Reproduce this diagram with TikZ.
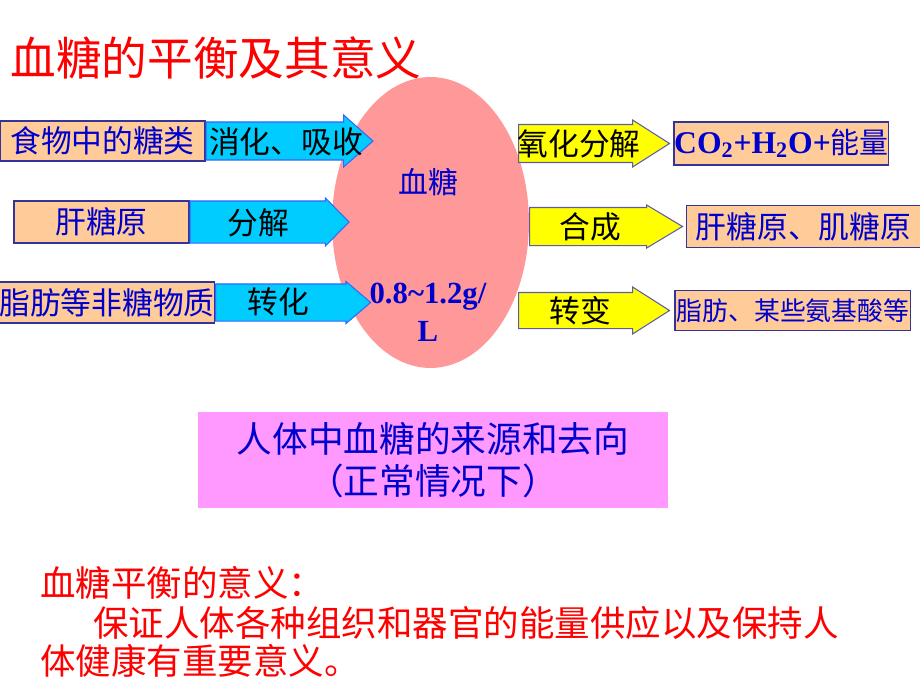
\documentclass[tikz,border=0pt]{standalone}
\usepackage{fontspec}
\setmainfont{Liberation Serif}
\newfontfamily\cjk{Noto Sans CJK SC}
\usepackage{tikz}
\usetikzlibrary{positioning, shapes.geometric, shapes.arrows, calc}
\definecolor{tanbox}{HTML}{FFCC99}
\definecolor{cyanarr}{HTML}{00CCFF}
\definecolor{yellowarr}{HTML}{FFFF00}
\definecolor{bloodpink}{HTML}{FF9999}
\definecolor{notepink}{HTML}{FF99FF}
\definecolor{textblue}{HTML}{0000CC}
\definecolor{edgeblue}{HTML}{333399}
\definecolor{arredge}{HTML}{3366FF}
\tikzstyle{srcbox} = [rectangle, draw=edgeblue, fill=tanbox, line width=0.6pt, inner sep=0pt, text=textblue, font=\cjk\fontsize{17.5}{20}\selectfont]
\tikzstyle{dstbox} = [srcbox]
\tikzstyle{inarrow} = [single arrow, draw=arredge, fill=cyanarr, line width=0.6pt, inner sep=0pt, text depth=0pt]
\tikzstyle{outarrow} = [inarrow, fill=yellowarr, draw=edgeblue!80]
\tikzstyle{arrowtext} = [inner sep=0pt, font=\cjk\fontsize{17.5}{20}\selectfont]
\tikzstyle{redtext} = [inner sep=0pt, text=red, font=\cjk\fontsize{20.2}{22}\selectfont]

\begin{document}
\begin{tikzpicture}[x=0.02cm, y=-0.02cm]
    \useasboundingbox (0,0) rectangle (920,690);
    %标题
    \node (title) [anchor=west, inner sep=0pt, text=red, font=\cjk\fontsize{26}{30}\selectfont] at (10,58) {血糖的平衡及其意义};

    %血糖
    \node (blood) [ellipse, fill=bloodpink, minimum width=3.94cm, minimum height=5.82cm, inner sep=0pt] at (430.5,222.5) {};

    %来源
    \node (food) [srcbox, minimum width=4.1cm, minimum height=0.8cm] at (102.5,141) {食物中的糖类};
    \node (liver) [srcbox, minimum width=3.5cm, minimum height=0.84cm] at (101.5,222) {肝糖原};
    \node (fat) [srcbox, minimum width=4.2cm, minimum height=0.82cm] at (107,302.5) {脂肪等非糖物质};

    \node (a1) [inarrow, anchor=tail, minimum height=3.34cm, minimum width=1.02cm, text height=0.74cm, single arrow head extend=0.14cm, single arrow tip angle=83] at (food.east) {};
    \node (a2) [inarrow, anchor=tail, minimum height=3.18cm, minimum width=0.94cm, text height=0.82cm, single arrow head extend=0.06cm, single arrow tip angle=91] at (liver.east) {};
    \node (a3) [inarrow, anchor=tail, minimum height=3.1cm, minimum width=0.82cm, text height=0.72cm, single arrow head extend=0.05cm, single arrow tip angle=81] at (fat.east) {};
    \node (t1) [arrowtext] at (286,141.5) {消化、吸收};
    \node (t2) [arrowtext] at (258,222.5) {分解};
    \node (t3) [arrowtext] at (278,302) {转化};

    %去向
    \node (b1) [outarrow, anchor=tail, minimum height=3.02cm, minimum width=0.92cm, text height=0.74cm, single arrow head extend=0.09cm, single arrow tip angle=65] at (518,143.5) {};
    \node (b2) [outarrow, anchor=tail, minimum height=3.06cm, minimum width=0.84cm, text height=0.74cm, single arrow head extend=0.05cm, single arrow tip angle=62] at (529,226.5) {};
    \node (b3) [outarrow, anchor=tail, minimum height=3.02cm, minimum width=0.92cm, text height=0.70cm, single arrow head extend=0.11cm, single arrow tip angle=65] at (518,310.5) {};
    \node (u1) [arrowtext] at (579,143.5) {氧化分解};
    \node (u2) [arrowtext] at (590,226.5) {合成};
    \node (u3) [arrowtext] at (580,310.5) {转变};

    \node (energy) [dstbox, minimum width=4.3cm, minimum height=0.86cm, right=0.06cm of b1.tip, font=\cjk\fontsize{16.5}{20}\selectfont] {{\rmfamily\bfseries\fontsize{18}{20}\selectfont CO\textsubscript{2}+H\textsubscript{2}O+}能量};
    \node (glycogen) [dstbox, minimum width=4.7cm, minimum height=0.84cm, right=0.04cm of b2.tip] {肝糖原、肌糖原};
    \node (lipid) [dstbox, minimum width=4.72cm, minimum height=0.8cm, right=0.08cm of b3.tip, font=\cjk\fontsize{14.7}{18}\selectfont] {脂肪、某些氨基酸等};

    \node (bname) [inner sep=0pt, text=textblue, font=\cjk\fontsize{17}{20}\selectfont] at (428,182) {血糖};
    \node (blevel) [inner sep=0pt, align=center, text=textblue, font=\bfseries\fontsize{17.5}{21.6}\selectfont] at (428,312) {0.8\textasciitilde1.2g/\\L};

    %说明
    \node (note) [rectangle, fill=notepink, minimum width=9.4cm, minimum height=1.92cm, align=center, text=textblue, font=\cjk\fontsize{20.3}{23.9}\selectfont] at (433,460) {人体中血糖的来源和去向\\（正常情况下）};

    \node (sig1) [redtext, anchor=base west] at (40,596) {血糖平衡的意义：};
    \node (sig2) [redtext, anchor=base west] at (93,636) {保证人体各种组织和器官的能量供应以及保持人};
    \node (sig3) [redtext, anchor=base west] at (40,674) {体健康有重要意义。};
\end{tikzpicture}
\end{document}
